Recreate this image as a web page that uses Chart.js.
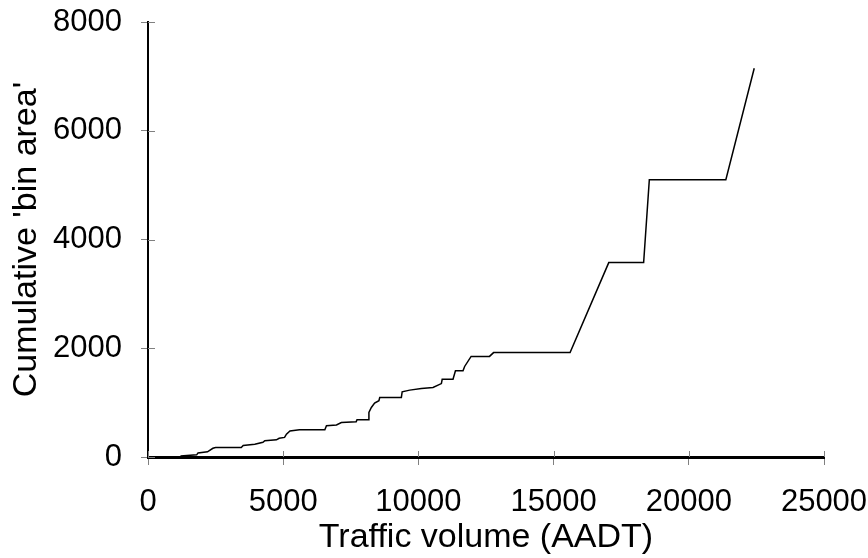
<!DOCTYPE html>
<html>
<head>
<meta charset="utf-8">
<script src="https://cdn.jsdelivr.net/npm/chart.js@4/dist/chart.umd.min.js"></script>
<style>
  html, body { margin: 0; padding: 0; background: #fff; }
  #wrap { width: 868px; height: 558px; }
</style>
</head>
<body>
<div id="wrap"><canvas id="c" width="868" height="558"></canvas></div>
<script>
// Traffic volume (AADT) values
const aadt = [1200, 1800, 1850, 2200, 2400, 2500, 3450, 3520, 3950, 4250, 4320, 4750, 4850, 5050, 5120, 5250, 5600, 6540, 6600, 6970, 7150, 7700, 7730, 8140, 8170, 8260, 8380, 8540, 8570, 9370, 9400, 9680, 10110, 10540, 10850, 10880, 11280, 11370, 11650, 11710, 11950, 12630, 12780, 15610, 17040, 18330, 18540, 21370, 22420];
// Cumulative 'bin area'
const cumArea = [20, 40, 75, 95, 160, 175, 175, 210, 235, 270, 300, 315, 345, 360, 420, 480, 500, 500, 575, 590, 635, 650, 685, 685, 820, 910, 990, 1035, 1095, 1095, 1200, 1230, 1260, 1280, 1350, 1430, 1430, 1585, 1585, 1665, 1850, 1850, 1920, 1920, 3575, 3575, 5100, 5100, 7150];
const xTicks = [0, 5000, 10000, 15000, 20000, 25000];
const yTicks = [0, 2000, 4000, 6000, 8000];
const xTitle = 'Traffic volume (AADT)';
const yTitle = "Cumulative 'bin area'";

const points = aadt.map((x, i) => ({ x: x, y: cumArea[i] }));

const innerTicks = {
  id: 'innerTicks',
  afterDraw(chart) {
    const ctx = chart.ctx;
    const xs = chart.scales.x, ys = chart.scales.y;
    ctx.save();
    ctx.strokeStyle = '#808080';
    ctx.lineWidth = 1;
    ctx.beginPath();
    xTicks.forEach(v => {
      const px = Math.round(xs.getPixelForValue(v)) + 0.5;
      ctx.moveTo(px, ys.bottom);
      ctx.lineTo(px, ys.bottom - 6);
    });
    yTicks.forEach(v => {
      const py = Math.round(ys.getPixelForValue(v)) + 0.5;
      ctx.moveTo(xs.left, py);
      ctx.lineTo(xs.left + 7, py);
    });
    ctx.stroke();
    ctx.restore();
  }
};

const fam = "'Liberation Sans', Arial, sans-serif";
const tickFont = { family: fam, size: 31 };
const titleFont = { family: fam, size: 34 };

new Chart(document.getElementById('c'), {
  type: 'scatter',
  data: {
    datasets: [{
      data: points,
      showLine: true,
      borderColor: '#000',
      borderWidth: 1.5,
      pointRadius: 0,
      tension: 0,
      fill: false
    }]
  },
  options: {
    responsive: false,
    animation: false,
    layout: { padding: 0 },
    plugins: { legend: { display: false }, tooltip: { enabled: false } },
    scales: {
      x: {
        type: 'linear',
        min: 0, max: 25000,
        afterBuildTicks: s => { s.ticks = xTicks.map(v => ({ value: v })); },
        afterFit: s => { s.height = 101; s.paddingLeft = 0; s.paddingRight = 44; },
        ticks: { color: '#000', font: tickFont, padding: 19, maxRotation: 0, callback: v => String(v) },
        grid: { drawOnChartArea: false, drawTicks: true, tickLength: 8, color: '#808080', lineWidth: 1 },
        border: { display: true, color: '#000', width: 3 },
        title: { display: true, text: xTitle, color: '#000', font: titleFont, padding: { top: 0, bottom: 0 } }
      },
      y: {
        type: 'linear',
        min: 0, max: 8000,
        afterBuildTicks: s => { s.ticks = yTicks.map(v => ({ value: v })); },
        afterFit: s => { s.width = 148; s.paddingTop = 22; s.paddingBottom = 0; },
        ticks: { color: '#000', font: tickFont, padding: 19, callback: v => String(v) },
        grid: { drawOnChartArea: false, drawTicks: true, tickLength: 7, color: '#808080', lineWidth: 1 },
        border: { display: true, color: '#000', width: 2 },
        title: { display: true, text: yTitle, color: '#000', font: titleFont, padding: { top: 6, bottom: 0 } }
      }
    }
  },
  plugins: [innerTicks]
});
</script>
</body>
</html>
